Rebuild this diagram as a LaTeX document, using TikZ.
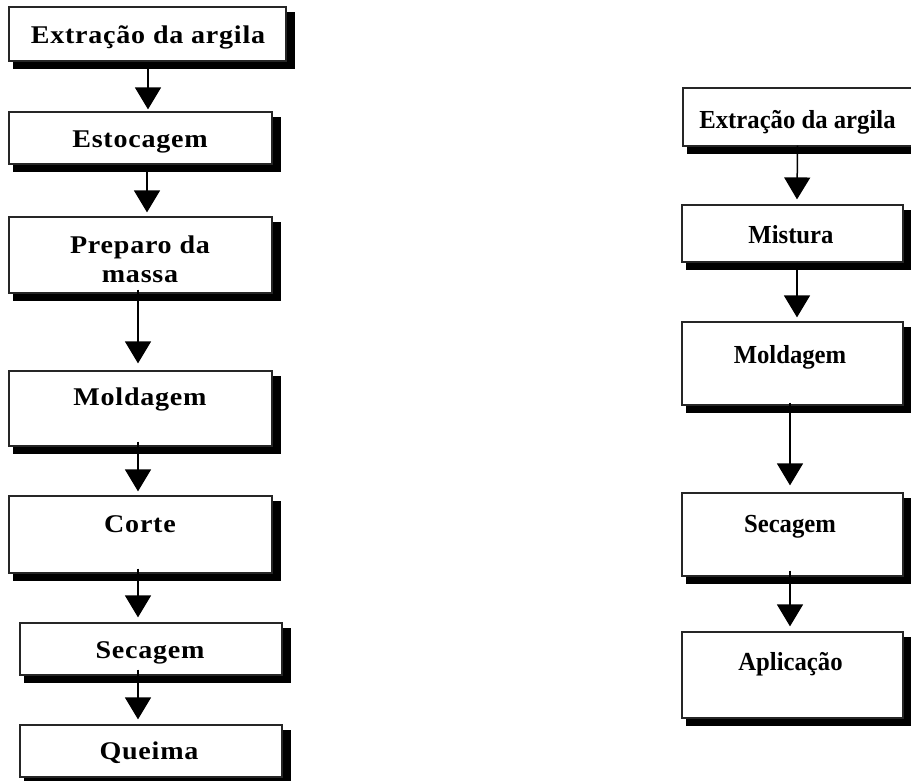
\documentclass[tikz,border=0pt]{standalone}
\usepackage{fontspec}
\setmainfont{Liberation Serif}
\newfontfamily\leftfont{Liberation Serif}[LetterSpace=3,FakeStretch=1.1]
\newfontfamily\rightfont{Liberation Serif}[FakeStretch=0.95]
\usetikzlibrary{arrows.meta}
\tikzset{
  boxnode/.style={draw=black!85, line width=1.2pt, fill=white, inner sep=0pt},
  shadowfill/.style={fill=black},
  ltxt/.style={inner sep=0pt, anchor=base, font=\leftfont\bfseries\fontsize{25.5}{29}\selectfont},
  rtxt/.style={inner sep=0pt, anchor=base, font=\rightfont\bfseries\fontsize{26}{30}\selectfont},
  arr/.style={line width=1.5pt, -{Triangle[width=26pt,length=22pt]}},
}
\newcommand{\shbox}[5]{%
  \fill[shadowfill] ({#2+4},{#3+5}) rectangle ({#4+9},{#5+8});
  \node[boxnode, minimum width={(#4-#2)*1pt}, minimum height={(#5-#3)*1pt}] (#1) at ({(#2+#4)/2},{(#3+#5)/2}) {};
}
\begin{document}
\begin{tikzpicture}[x=1pt,y=-1pt]
\useasboundingbox (0,0) rectangle (911,780);
% left column
\shbox{L1}{9}{7}{286}{61}
\shbox{L2}{9}{112}{272}{164}
\shbox{L3}{9}{217}{272}{293}
\shbox{L4}{9}{371}{272}{446}
\shbox{L5}{9}{496}{272}{573}
\shbox{L6}{20}{623}{282}{675}
\shbox{L7}{20}{725}{282}{777}
\node[ltxt] (t1) at (148,43) {Extração da argila};
\node[ltxt] (t2) at (140,147) {Estocagem};
\node[ltxt] (t3a) at (140,253) {Preparo da};
\node[ltxt] (t3b) at (140,282) {massa};
\node[ltxt] (t4) at (140,405) {Moldagem};
\node[ltxt] (t5) at (140,532) {Corte};
\node[ltxt] (t6) at (150,658) {Secagem};
\node[ltxt] (t7) at (149,759) {Queima};
% left arrows
\draw[arr] ([xshift=0.5pt]L1.south) -- ([xshift=7.5pt,yshift=2pt]L2.north);
\draw[arr] ([xshift=6.5pt]L2.south) -- ([xshift=6.5pt,yshift=4pt]L3.north);
\draw[arr] ([xshift=-2.5pt,yshift=4pt]L3.south) -- ([xshift=-2.5pt,yshift=7pt]L4.north);
\draw[arr] ([xshift=-2.5pt,yshift=5pt]L4.south) -- ([xshift=-2.5pt,yshift=4pt]L5.north);
\draw[arr] ([xshift=-2.5pt,yshift=5pt]L5.south) -- ([xshift=-13pt,yshift=5pt]L6.north);
\draw[arr] ([xshift=-13pt,yshift=6pt]L6.south) -- ([xshift=-13pt,yshift=5pt]L7.north);
% right column
\shbox{R1}{683}{88}{912}{146}
\shbox{R2}{682}{205}{903}{262}
\shbox{R3}{682}{322}{903}{405}
\shbox{R4}{682}{493}{903}{576}
\shbox{R5}{682}{632}{903}{718}
\node[rtxt] (u1) at (797.5,128) {Extração da argila};
\node[rtxt] (u2) at (791,243) {Mistura};
\node[rtxt] (u3) at (790,363) {Moldagem};
\node[rtxt] (u4) at (790,532) {Secagem};
\node[rtxt] (u5) at (790.5,670) {Aplicação};
% right arrows
\draw[arr] ([yshift=1pt]R1.south) -- ([xshift=4.5pt,yshift=5pt]R2.north);
\draw[arr] ([xshift=4.5pt]R2.south) -- ([xshift=4.5pt,yshift=4pt]R3.north);
\draw[arr] ([xshift=-2.5pt,yshift=3pt]R3.south) -- ([xshift=-2.5pt,yshift=7pt]R4.north);
\draw[arr] ([xshift=-2.5pt,yshift=6pt]R4.south) -- ([xshift=-2.5pt,yshift=5pt]R5.north);
\end{tikzpicture}
\end{document}
